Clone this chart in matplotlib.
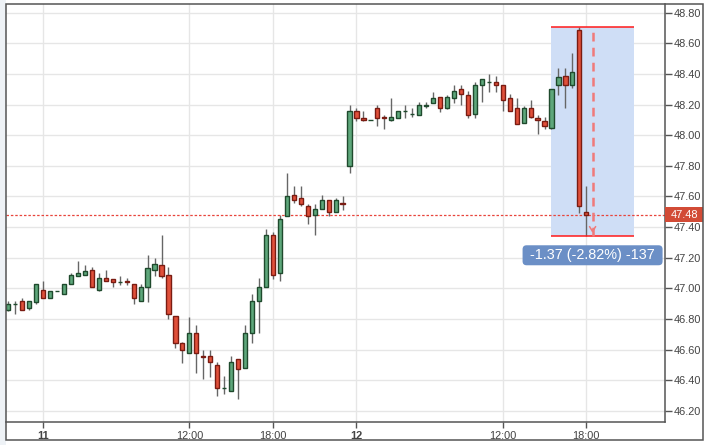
import matplotlib
matplotlib.use("Agg")
import matplotlib.pyplot as plt
import matplotlib.transforms as mtransforms
from matplotlib.patches import Rectangle, FancyBboxPatch
import numpy as np

plt.rcParams['font.family'] = ['Liberation Sans', 'DejaVu Sans']

# 30 minute candles
opens = [46.86, 46.90, 46.92, 46.87, 46.91, 46.99, 46.94, 46.98, 46.96, 47.03,
         47.08, 47.09, 47.12, 46.99, 47.07, 47.06, 47.04, 47.05, 47.03, 46.92,
         47.01, 47.12, 47.15, 47.09, 46.82, 46.64, 46.58, 46.71, 46.56, 46.56,
         46.50, 46.35, 46.33, 46.54, 46.48, 46.71, 46.92, 47.01, 47.35, 47.10,
         47.47, 47.61, 47.59, 47.54, 47.48, 47.52, 47.58, 47.50, 47.56, 47.80,
         48.16, 48.11, 48.10, 48.18, 48.12, 48.10, 48.11, 48.16, 48.14, 48.13,
         48.19, 48.21, 48.25, 48.18, 48.24, 48.30, 48.26, 48.14, 48.33, 48.35,
         48.35, 48.33, 48.24, 48.18, 48.08, 48.18, 48.11, 48.09, 48.05, 48.33,
         48.39, 48.33, 48.69, 47.50]
highs = [46.92, 46.92, 46.94, 46.92, 47.03, 47.05, 46.98, 46.98, 47.03, 47.10,
         47.18, 47.15, 47.14, 47.10, 47.12, 47.06, 47.08, 47.07, 47.03, 47.03,
         47.22, 47.20, 47.35, 47.14, 46.82, 46.65, 46.81, 46.76, 46.60, 46.60,
         46.52, 46.43, 46.56, 46.54, 46.76, 46.96, 47.07, 47.39, 47.37, 47.48,
         47.75, 47.67, 47.67, 47.55, 47.55, 47.61, 47.58, 47.59, 47.60, 48.20,
         48.18, 48.16, 48.10, 48.20, 48.13, 48.24, 48.16, 48.20, 48.18, 48.22,
         48.22, 48.28, 48.25, 48.26, 48.33, 48.33, 48.29, 48.35, 48.37, 48.40,
         48.39, 48.33, 48.27, 48.24, 48.19, 48.23, 48.13, 48.12, 48.30, 48.44,
         48.44, 48.54, 48.71, 47.67]
lows = [46.85, 46.83, 46.86, 46.86, 46.90, 46.94, 46.94, 46.98, 46.96, 47.03,
        47.08, 47.09, 47.01, 46.98, 47.05, 47.01, 47.02, 47.02, 46.90, 46.92,
        46.91, 47.08, 47.07, 46.80, 46.61, 46.51, 46.58, 46.45, 46.41, 46.42,
        46.30, 46.31, 46.33, 46.28, 46.48, 46.64, 46.71, 47.01, 47.06, 47.05,
        47.47, 47.56, 47.54, 47.42, 47.35, 47.52, 47.47, 47.50, 47.51, 47.75,
        48.09, 48.09, 48.10, 48.06, 48.04, 48.09, 48.11, 48.11, 48.12, 48.13,
        48.18, 48.21, 48.15, 48.17, 48.21, 48.20, 48.11, 48.11, 48.22, 48.28,
        48.28, 48.16, 48.16, 48.07, 48.08, 48.11, 48.01, 48.04, 48.04, 48.26,
        48.18, 48.31, 47.49, 47.34]
closes = [46.90, 46.90, 46.86, 46.92, 47.03, 46.94, 46.98, 46.98, 47.03, 47.09,
          47.10, 47.11, 47.01, 47.07, 47.05, 47.04, 47.04, 47.04, 46.94, 47.01,
          47.13, 47.16, 47.08, 46.83, 46.64, 46.60, 46.71, 46.58, 46.55, 46.52,
          46.35, 46.35, 46.52, 46.47, 46.71, 46.92, 47.01, 47.35, 47.09, 47.45,
          47.60, 47.58, 47.55, 47.47, 47.52, 47.58, 47.50, 47.58, 47.55, 48.16,
          48.11, 48.10, 48.10, 48.11, 48.11, 48.12, 48.16, 48.16, 48.14, 48.20,
          48.20, 48.24, 48.18, 48.25, 48.29, 48.27, 48.13, 48.33, 48.37, 48.35,
          48.33, 48.23, 48.16, 48.07, 48.18, 48.12, 48.10, 48.06, 48.30, 48.38,
          48.33, 48.41, 47.54, 47.48]

tick_pos = [5, 26, 38, 50, 71, 83]
tick_labels = ["11", "12:00", "18:00", "12", "12:00", "18:00"]
ytick_vals = [46.2, 46.4, 46.6, 46.8, 47.0, 47.2, 47.4, 47.6, 47.8, 48.0, 48.2, 48.4, 48.6, 48.8]

# measured range (last two candles)
sel_start, sel_end = 78.0, 89.9
sel_x = 83.9
sel_label = "-1.37 (-2.82%) -137"

green_face, green_edge = "#5ea77b", "#1f4a2d"
red_face, red_edge = "#e0503a", "#7a1c12"

fig = plt.figure(figsize=(7.1, 4.45), dpi=100)
fig.patch.set_facecolor("white")
fig.add_artist(Rectangle((0, 0), 6 / 710, 1, transform=fig.transFigure,
                         fc="#eef2f6", ec="none", zorder=0))
fig.add_artist(Rectangle((6 / 710, 5 / 445), 697 / 710, 436 / 445, transform=fig.transFigure,
                         fill=False, ec="#555555", lw=1.1, zorder=10))

ax = fig.add_axes([6 / 710, 22.7 / 445, 659 / 710, 418.3 / 445])

x = np.arange(len(opens))
o = np.array(opens)
c = np.array(closes)
up = c >= o
face = [green_face if u else red_face for u in up]
edge = [green_edge if u else red_edge for u in up]

# selection box behind candles
hi = highs[-2]
lo = lows[-1]
ax.add_patch(Rectangle((sel_start, lo), sel_end - sel_start, hi - lo,
                       fc="#cfdef6", ec="none", zorder=1.5))
ax.hlines([hi, lo], sel_start, sel_end, color="#ff1a1a", lw=1.1, zorder=4)

# candles
ax.vlines(x, lows, highs, color="#666666", lw=1.0, zorder=2)
ax.bar(x, np.abs(c - o), bottom=np.minimum(o, c), width=0.6,
       color=face, edgecolor=edge, linewidth=1.0, zorder=3)

# last price line
last = closes[-1]
ax.axhline(last, color="#e8453c", ls=(0, (2, 1.5)), lw=0.9, zorder=2.5)

# measuring arrow
ax.vlines(sel_x, lo, hi, color="#f07a7a", ls=(0, (3.5, 2.5)), lw=1.8, zorder=4)
ax.annotate("", xy=(sel_x, lo + 0.004), xytext=(sel_x, lo + 0.06),
            arrowprops=dict(arrowstyle="->,head_length=0.35,head_width=0.22",
                            color="#f07a7a", lw=1.1), zorder=4)

# label box, sized in pixels below the measured low
anchor = mtransforms.Affine2D() + mtransforms.ScaledTranslation(sel_x, lo, ax.transData)
ax.add_patch(FancyBboxPatch((-70, -29), 140, 20, boxstyle="round,pad=0,rounding_size=4",
                            transform=anchor, fc="#6b8fc6", ec="none",
                            clip_on=False, zorder=6))
ax.text(0, -19, sel_label, transform=anchor, ha="center", va="center",
        color="white", fontsize=10.4, zorder=7, clip_on=False)

# price tag on the axis
trans = mtransforms.blended_transform_factory(ax.transAxes, ax.transData)
ax.add_patch(Rectangle((1.0, last - 0.049), 38 / 659, 0.098, transform=trans,
                       fc="#d24b36", ec="none", clip_on=False, zorder=5))
ax.text(1.0 + 19 / 659, last, f"{last:.2f}", transform=trans, ha="center", va="center",
        color="white", fontsize=7.9, zorder=6, clip_on=False)

ax.set_xlim(-0.33, 94.3)
ax.set_ylim(46.125, 48.857)

ax.set_xticks(tick_pos)
ax.set_xticklabels(tick_labels)
for lab in ax.get_xticklabels():
    if ":" not in lab.get_text():
        lab.set_fontweight("bold")
ax.set_yticks(ytick_vals)
ax.set_yticklabels([f"{v:.2f}" for v in ytick_vals])
ax.yaxis.tick_right()

ax.tick_params(axis="y", length=5, width=1, color="#555555", labelcolor="#444444",
               pad=1.5, labelsize=7.9)
ax.tick_params(axis="x", length=4, width=1, color="#555555", labelcolor="#444444",
               pad=2, labelsize=7.9)

for s in ["left", "top"]:
    ax.spines[s].set_visible(False)
for s in ["right", "bottom"]:
    ax.spines[s].set_color("#555555")
    ax.spines[s].set_linewidth(1.1)

ax.grid(color="#e6e6e6", lw=1)
ax.set_axisbelow(True)

fig.savefig("out.png", dpi=100)
